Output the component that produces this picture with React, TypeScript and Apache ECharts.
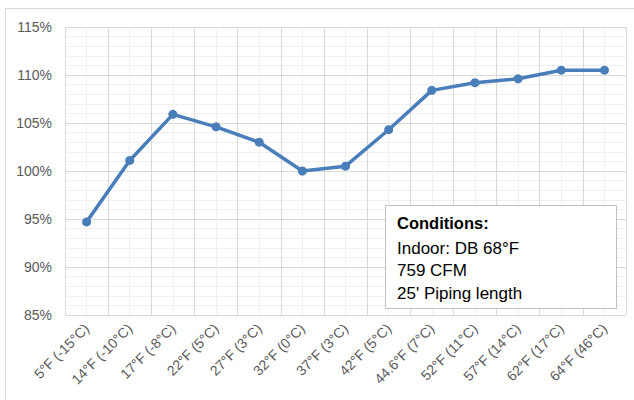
import React, { useEffect, useRef } from "react";
import * as echarts from "echarts";

const categories = [
  "5°F (-15°C)", "14°F (-10°C)", "17°F (-8°C)", "22°F (5°C)", "27°F (3°C)",
  "32°F (0°C)", "37°F (3°C)", "42°F (5°C)", "44.6°F (7°C)", "52°F (11°C)",
  "57°F (14°C)", "62°F (17°C)", "64°F (46°C)",
];
const capacityPct = [94.7, 101.1, 105.9, 104.6, 103.0, 100.0, 100.5, 104.3, 108.4, 109.2, 109.6, 110.5, 110.5];
const yMin = 85;
const yMax = 115;
const yStep = 5;
const noteTitle = "Conditions:";
const noteLines = ["Indoor: DB 68°F", "759 CFM", "25' Piping length"];

export default function App() {
  const ref = useRef<HTMLDivElement>(null);
  useEffect(() => {
    if (!ref.current) return;
    const chart = echarts.init(ref.current, null, { renderer: "svg" });
    const font = "Liberation Sans, Arial, sans-serif";
    const grid = { left: 65, right: 8, top: 27, bottom: 85 };
    chart.setOption({
      animation: false,
      grid: { ...grid, containLabel: false },
      xAxis: [
        {
          type: "category",
          data: categories,
          boundaryGap: true,
          axisLine: { show: false },
          axisTick: { show: false },
          splitLine: { show: false },
          axisLabel: {
            rotate: 45,
            interval: 0,
            margin: 11,
            color: "#595959",
            fontSize: 14,
            fontFamily: font,
          },
        },
        {
          type: "value",
          min: 0,
          max: categories.length,
          interval: 1,
          show: true,
          position: "bottom",
          axisLine: { show: false },
          axisTick: { show: false },
          axisLabel: { show: false },
          splitLine: { show: true, lineStyle: { color: "#d9d9d9", width: 1 } },
          minorTick: { show: false, splitNumber: 2 },
          minorSplitLine: { show: true, lineStyle: { color: "#f0f0f0", width: 1 } },
        },
      ],
      yAxis: {
        type: "value",
        min: yMin,
        max: yMax,
        interval: yStep,
        axisLine: { show: false },
        axisTick: { show: false },
        axisLabel: {
          formatter: "{value}%",
          color: "#595959",
          fontSize: 14,
          fontFamily: font,
          margin: 13,
        },
        splitLine: { show: true, lineStyle: { color: "#d9d9d9", width: 1 } },
        minorTick: { show: false, splitNumber: 5 },
        minorSplitLine: { show: true, lineStyle: { color: "#f0f0f0", width: 1 } },
      },
      series: [
        {
          type: "line",
          xAxisIndex: 0,
          data: capacityPct,
          symbol: "circle",
          symbolSize: 9,
          lineStyle: { color: "#4a7ebb", width: 3.5 },
          itemStyle: { color: "#4a7ebb" },
          z: 5,
        },
      ],
      graphic: [
        {
          type: "rect",
          shape: { x: 5.5, y: 8.5, width: 800, height: 600 },
          style: { fill: "none", stroke: "#d9d9d9", lineWidth: 1 },
          silent: true,
          z: 1,
        },
        {
          type: "rect",
          shape: { x: 385.5, y: 205.5, width: 231, height: 103 },
          style: { fill: "#ffffff", stroke: "#bfbfbf", lineWidth: 1 },
          z: 10,
        },
        {
          type: "text",
          x: 397,
          y: 223,
          style: {
            text: noteTitle,
            font: `bold 16.5px ${font}`,
            fill: "#000000",
            verticalAlign: "middle",
          },
          z: 11,
        },
        ...noteLines.map((t, i) => ({
          type: "text",
          x: 397,
          y: 248 + i * 22.5,
          style: {
            text: t,
            font: `17px ${font}`,
            fill: "#000000",
            verticalAlign: "middle",
          },
          z: 11,
        })),
      ],
    });
    return () => chart.dispose();
  }, []);
  return (
    <div
      ref={ref}
      style={{ position: "fixed", left: 0, top: 0, width: 634, height: 400, background: "#ffffff" }}
    />
  );
}
